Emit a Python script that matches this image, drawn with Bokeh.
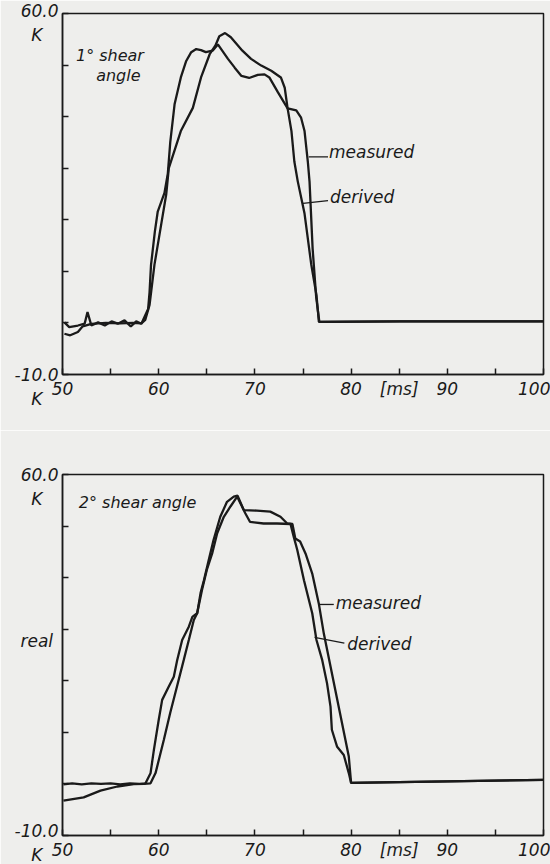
from bokeh.plotting import figure
from bokeh.models import FixedTicker, Range1d, Label, Arrow
from bokeh.layouts import column
from bokeh.embed import file_html
from bokeh.resources import INLINE

NB = "\u00a0"

# ---------------- data ----------------
x_ticks = [50, 55, 60, 65, 70, 75, 80, 85, 90, 95, 100]
x_tick_labels = ["50", "", "60", "", "70", "", "80", "[ms]", "90", "", "100"]
y_ticks = [-10, 0, 10, 20, 30, 40, 50, 60]
top_y_tick_labels = [NB + "\n-10.0\nK" + NB * 3, "", "", "", "", "", "",
                     "60.0\nK" + NB * 3]
bot_y_tick_labels = [NB + "\n-10.0\nK" + NB * 3, "", "", "", NB + "\nreal" + NB, "", "",
                     NB + "\n60.0\nK" + NB * 3]

# panel 1: 1 deg shear angle
top_meas_x = [50.2, 50.7, 51.6, 52.3, 52.6, 53.0, 53.7, 54.4, 55.1, 55.75, 56.45, 57.1, 57.66, 58.2,
              58.9, 59.05, 59.2, 59.6, 59.9, 60.6, 60.95, 61.2, 61.65, 62.3, 62.86, 63.38, 63.9,
              64.4, 64.9, 65.6, 66.15, 67.2, 67.9, 68.6, 69.4, 70.3, 71.0, 71.5, 72.4, 73.4, 74.3,
              74.8, 75.16, 75.5, 75.68, 76.0, 76.37, 76.7, 85.0, 92.0, 100.0]
top_meas_y = [0.1, -0.8, -0.5, -0.15, 2.1, -0.5, 0.1, -0.5, 0.3, -0.15, 0.5, -0.7, 0.3, -0.15,
              2.7, 6.0, 11.2, 17.7, 21.6, 25.2, 29.0, 35.0, 42.4, 47.6, 50.8, 52.5, 53.1,
              52.9, 52.5, 52.8, 54.0, 51.2, 49.5, 47.9, 47.5, 48.1, 48.2, 47.6, 44.7, 41.6, 41.2,
              39.8, 37.2, 31.3, 27.4, 14.4, 5.0, 0.2, 0.3, 0.3, 0.3]
top_der_x = [50.2, 50.8, 51.6, 52.1, 53.0, 54.5, 56.0, 57.3, 58.2, 58.6, 59.05, 59.56, 60.26, 60.78,
             61.05, 62.3, 63.55, 64.4, 65.3, 65.9, 66.3, 66.9, 67.5, 68.7, 69.6, 70.66, 71.7, 72.7,
             73.1, 73.4, 73.8, 74.1, 74.46, 75.16, 75.86, 76.4, 76.65, 85.0, 92.0, 100.0]
top_der_y = [-2.1, -2.4, -1.75, -0.65, -0.2, 0.0, -0.1, 0.0, -0.1, 0.6, 3.5, 11.3, 19.1, 24.9,
             30.0, 37.2, 41.7, 47.6, 52.1, 53.8, 55.6, 56.2, 55.4, 52.8, 51.2, 49.9, 48.9, 47.6,
             45.6, 41.6, 37.2, 31.3, 27.4, 21.2, 11.3, 5.4, 0.2, 0.3, 0.3, 0.3]

# panel 2: 2 deg shear angle
bot_meas_x = [50.1, 51.0, 52.0, 53.0, 54.0, 55.0, 56.0, 57.0, 58.0, 58.63, 59.15, 59.5, 60.0, 60.36,
              61.05, 61.57, 61.92, 62.44, 63.13, 63.5, 64.0, 64.35, 64.7, 65.2, 65.7, 66.4, 67.1,
              67.8, 68.2, 68.85, 70.2, 71.6, 72.66, 73.36, 73.9, 74.2, 74.7, 75.26, 75.96, 76.64,
              77.16, 79.76, 80.0, 90.0, 100.0]
bot_meas_y = [-0.1, 0.1, -0.1, 0.1, 0.0, 0.1, -0.1, 0.1, 0.0, 0.12, 2.06, 6.6, 12.4, 16.3,
              18.9, 20.8, 24.0, 27.9, 30.5, 32.4, 33.1, 37.0, 39.5, 43.4, 47.3, 51.8, 54.7,
              55.7, 55.9, 53.1, 53.0, 52.8, 51.8, 50.5, 50.4, 47.6, 47.0, 44.7, 40.8, 35.0,
              29.2, 5.3, 0.2, 0.5, 0.8]
bot_der_x = [50.1, 52.2, 53.95, 55.7, 57.4, 58.45, 59.15, 59.67, 60.53, 61.2, 61.9, 62.6, 63.13,
             63.65, 64.0, 64.5, 65.0, 65.56, 66.08, 66.77, 67.46, 68.16, 69.0, 69.5, 70.9, 72.3,
             73.7, 74.04, 74.4, 75.1, 75.96, 76.4, 77.0, 77.5, 77.86, 78.0, 78.55, 79.24, 79.76,
             80.0, 90.0, 100.0]
bot_der_y = [-3.25, -2.6, -1.3, -0.5, -0.05, 0.0, 0.12, 2.1, 8.5, 13.8, 18.9, 24.0, 27.9,
             31.8, 33.1, 37.6, 41.5, 44.7, 48.6, 51.8, 53.8, 55.7, 52.5, 50.8, 50.5, 50.5,
             50.4, 47.9, 45.4, 39.5, 33.1, 27.9, 24.0, 19.5, 15.0, 10.5, 7.2, 5.6, 2.1,
             0.2, 0.5, 0.8]

# ---------------- styling ----------------
PAPER = "#eeeeec"
INK = "#1a1a1a"
FONT = "DejaVu Sans"
FS = "17px"


def txt(p, x, y, s, size=FS):
    p.add_layout(Label(x=x, y=y, text=s, text_font=FONT, text_font_style="italic",
                       text_font_size=size, text_color=INK, text_baseline="middle",
                       text_align="left"))


def leader(p, x0, y0, x1, y1):
    p.add_layout(Arrow(end=None, x_start=x0, y_start=y0, x_end=x1, y_end=y1,
                       line_color=INK, line_width=1.3))


def make_fig(left, right, top, bottom, y_labels):
    p = figure(frame_width=481, frame_height=361,
               x_range=Range1d(50, 100), y_range=Range1d(-10, 60),
               output_backend="svg", toolbar_location=None,
               min_border_left=left, min_border_right=right,
               min_border_top=top, min_border_bottom=bottom,
               background_fill_color=PAPER, border_fill_color=PAPER)
    p.xgrid.visible = False
    p.ygrid.visible = False
    p.outline_line_color = INK
    p.outline_line_width = 1.5
    p.outline_line_alpha = 1.0
    for ax, ticks, labels in ((p.xaxis[0], x_ticks, x_tick_labels),
                              (p.yaxis[0], y_ticks, y_labels)):
        ax.ticker = FixedTicker(ticks=ticks)
        ax.major_label_overrides = {t: l for t, l in zip(ticks, labels)}
        ax.major_tick_in = 6
        ax.major_tick_out = 0
        ax.minor_tick_line_color = None
        ax.axis_line_color = INK
        ax.axis_line_width = 1.5
        ax.major_tick_line_color = INK
        ax.major_tick_line_width = 1.5
        ax.major_label_text_font = FONT
        ax.major_label_text_font_style = "italic"
        ax.major_label_text_font_size = FS
        ax.major_label_text_color = INK
        ax.major_label_standoff = 4
    return p


p1 = make_fig(58, 11, 13, 56, top_y_tick_labels)
p1.line(top_meas_x, top_meas_y, line_color=INK, line_width=2.3)
p1.line(top_der_x, top_der_y, line_color=INK, line_width=2.3)
txt(p1, 51.4, 51.9, "1° shear", size="16px")
txt(p1, 53.5, 47.9, "angle", size="16px")
txt(p1, 77.7, 33.2, "measured")
leader(p1, 75.6, 32.2, 77.6, 32.2)
txt(p1, 77.8, 24.4, "derived")
leader(p1, 75.0, 23.2, 77.6, 23.7)

p2 = make_fig(62, 7, 44, 29, bot_y_tick_labels)
p2.line(bot_meas_x, bot_meas_y, line_color=INK, line_width=2.3)
p2.line(bot_der_x, bot_der_y, line_color=INK, line_width=2.3)
txt(p2, 51.7, 54.5, "2° shear angle", size="16px")
txt(p2, 78.4, 35.1, "measured")
leader(p2, 76.7, 34.8, 78.2, 34.8)
txt(p2, 79.6, 27.1, "derived")
leader(p2, 76.2, 28.4, 79.3, 27.3)

layout = column(p1, p2, spacing=0)
open("out.html", "w").write(file_html(layout, INLINE))
